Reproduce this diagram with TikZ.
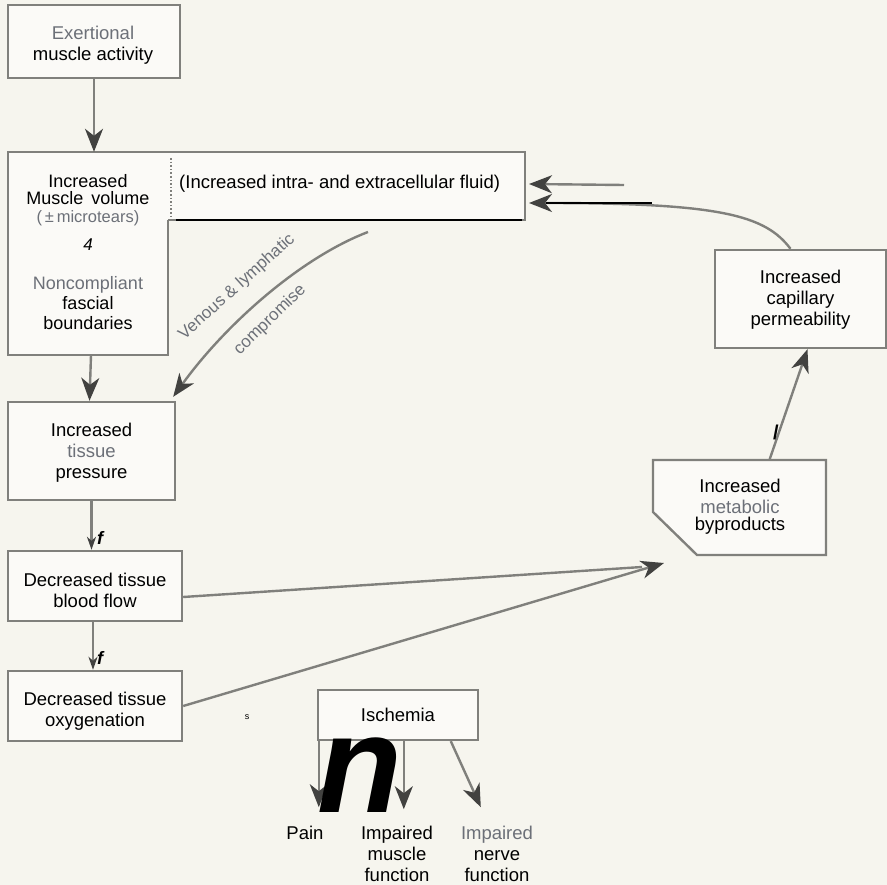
\documentclass[tikz,border=0pt]{standalone}
\usepackage{fontspec}
\setmainfont{Liberation Sans}
\usetikzlibrary{arrows.meta}
\definecolor{bg}{RGB}{246,245,238}
\definecolor{edge}{RGB}{128,128,124}
\definecolor{tipc}{RGB}{66,66,64}
\definecolor{faded}{RGB}{108,112,120}
\newcommand\bxfont{\fontsize{18.5}{21}\selectfont}
\begin{document}
\begin{tikzpicture}[x=1pt,y=-1pt,
  box/.style={draw=edge,line width=2.4pt,fill=white!55!bg,align=center,inner sep=0pt,font=\bxfont},
  txt/.style={align=center,inner sep=0pt,font=\bxfont},
  conn/.style={draw=edge,line width=2.4pt,-{Stealth[length=23pt,width=18pt,inset=7pt,color=tipc]}},
  sconn/.style={draw=edge,line width=2.4pt,-{Stealth[length=13pt,width=9pt,inset=4pt,color=tipc]}},
  plain/.style={draw=edge,line width=2.4pt},
  fmark/.style={inner sep=0pt,font=\fontsize{18}{18}\selectfont\bfseries\itshape}]
\fill[bg] (0,0) rectangle (887,885);
\useasboundingbox (0,0) rectangle (887,885);

% boxes
\node[box,minimum width=172pt,minimum height=73pt] (A) at (94,41.5) {};
\node[txt] (At) at (93,45) {{\color{faded}Exertional}\\muscle activity};

\fill[white!55!bg] (8,152) -- (525,152) -- (525,220) -- (168,220) -- (168,355) -- (8,355) -- cycle;
\draw[edge,line width=2.4pt,line join=miter] (168,220) -- (525,220) -- (525,152) -- (8,152) -- (8,355) -- (168,355) -- (168,220);
\draw[black,line width=2.2pt] (176,220) -- (522,220);
\draw[edge,line width=1.6pt,dotted] (171,158) -- (171,216);
\node[inner sep=0pt,minimum width=160pt,minimum height=203pt] (B) at (88,253.5) {};
\node[txt,font=\fontsize{18}{17.5}\selectfont] (Bt1) at (88,200) {Increased\\Muscle\, volume\\{\color{faded}\fontsize{16.5}{17.5}\selectfont(\,±\,microtears)}};
\node[txt,font=\fontsize{17}{17}\selectfont\itshape] (B4) at (88,245) {4};
\node[txt,font=\fontsize{18}{20}\selectfont] (Bt2) at (88,303) {{\color{faded}Noncompliant}\\fascial\\boundaries};
\node[txt,anchor=west,font=\fontsize{18.5}{18}\selectfont] (Bx) at (179,184) {(Increased intra- and extracellular fluid)};

\node[box,minimum width=167pt,minimum height=98pt] (C) at (91.5,451) {};
\node[txt] (Ct) at (91.5,453) {Increased\\{\color{faded}tissue}\\pressure};
\node[box,minimum width=174pt,minimum height=70pt] (D) at (95,586) {};
\node[txt] (Dt) at (95,590) {Decreased tissue\\blood flow};
\node[box,minimum width=174pt,minimum height=70pt] (E) at (95,706) {};
\node[txt] (Et) at (95,711) {Decreased tissue\\oxygenation};

\node[inner sep=0pt,minimum width=173pt,minimum height=95pt] (F) at (739.5,507.5) {};
\draw[edge,line width=2.4pt,fill=white!55!bg,line join=miter] (653,460) -- (826,460) -- (826,555) -- (697,555) -- (653,512) -- cycle;
\node[txt] (Ft) at (740,507) {Increased\\{\color{faded}metabolic}\\[-4pt]byproducts};

\node[box,minimum width=171pt,minimum height=98pt] (G) at (800.5,299) {};
\node[txt] (Gt) at (800.5,300) {Increased\\capillary\\permeability};
\node[box,minimum width=160pt,minimum height=50pt] (H) at (398,715) {Ischemia};

\node[txt] (Pain) at (305,833) {Pain};
\node[txt] (Mus) at (397,854) {Impaired\\muscle\\function};
\node[txt] (Ner) at (497,854) {{\color{faded}Impaired}\\nerve\\function};

% connectors
\draw[conn] (A.south) -- (A.south |- B.north);
\draw[conn] ([xshift=3pt]B.south) -- ([xshift=-2pt]C.north);
\draw[sconn] (C.south) -- (C.south |- D.north);
\draw[sconn] ([xshift=-2pt]D.south) -- ([xshift=-2pt]D.south |- E.north);
\node[fmark] (f1) at (100,538) {f};
\node[fmark] (f2) at (100,658) {f};

\coordinate (vstart) at (368,232);
\draw[conn] (vstart) .. controls (300,258) and (225,325) .. ([xshift=-3pt,yshift=4pt]C.north east);
\node[inner sep=0pt,rotate=42,text=faded,font=\fontsize{17}{17}\selectfont] (vl1) at (237,287) {Venous \& lymphatic};
\node[inner sep=0pt,rotate=44,text=faded,font=\fontsize{17}{17}\selectfont] (vl2) at (270,320) {compromise};

\coordinate (Fin) at (664,563);
\draw[plain] ([yshift=-11pt]D.east) -- (642,567);
\draw[conn] (E.east) -- (Fin);

\draw[conn] ([xshift=30pt]F.north) -- ([xshift=7pt]G.south);
\node[inner sep=0pt,font=\fontsize{20}{20}\selectfont\bfseries] (sl) at (776,432) {/};

\coordinate (Bin1) at (529,184);
\coordinate (Bin2) at (529,203);
\draw[conn] ([xshift=-10pt]G.north) .. controls (765,215) and (720,203) .. (Bin2);
\draw[black,line width=2.4pt] (546,203) -- (652,203);
\coordinate (topstart) at (624,185);
\draw[conn] (topstart) -- (Bin1);

\draw[conn] ([xshift=2pt]H.south west) -- ++(0,66);
\draw[conn] ([xshift=87pt]H.south west) -- ++(0,68);
\draw[conn] ([xshift=134pt]H.south west) -- ++(30,66);

\node[inner sep=0pt,anchor=base,font=\fontsize{139}{139}\selectfont\bfseries\itshape] (bign) at (360,812) {n};
\node[inner sep=0pt,font=\fontsize{9}{9}\selectfont] (s) at (247,717) {s};
\end{tikzpicture}
\end{document}
